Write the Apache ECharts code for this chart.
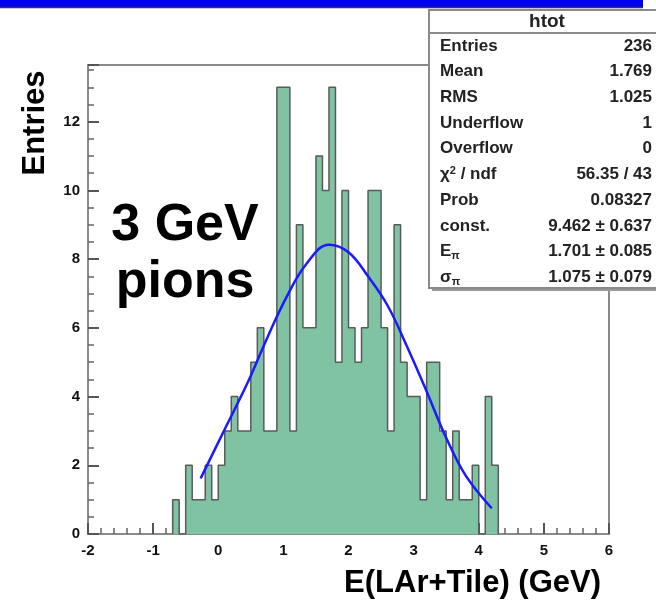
<!DOCTYPE html>
<html>
<head>
<meta charset="utf-8">
<script src="https://cdn.jsdelivr.net/npm/echarts@6/dist/echarts.min.js"></script>
<style>
html, body { margin: 0; padding: 0; background: #fff; }
#Echarts { width: 656px; height: 604px; }
</style>
</head>
<body>
<div id="Echarts"></div>
<script>
// histogram htot: 0.1 GeV bins starting at -0.7
var binLow = -0.7;
var binWidth = 0.1;
var counts = [1, 0, 2, 1, 1, 2, 1, 2, 3, 4, 3, 3, 5, 6, 3, 3, 13, 13, 3, 9,
              6, 6, 11, 10, 13, 5, 10, 6, 5, 6, 10, 10, 6, 3, 9, 5, 4, 4, 1, 5,
              5, 3, 1, 3, 1, 1, 2, 0, 4, 2];

// gaussian fit curve
var fitX = [-0.27, 0.1, 0.45, 0.75, 1.05, 1.35, 1.7, 2.0, 2.3, 2.6, 2.9, 3.2, 3.5, 3.8, 4.2];
var fitY = [1.62, 3.05, 4.4, 5.7, 6.9, 7.85, 8.42, 8.2, 7.5, 6.65, 5.45, 4.15, 2.8, 1.7, 0.75];

// stats box
var statTitle = 'htot';
var statLabels = ['Entries', 'Mean', 'RMS', 'Underflow', 'Overflow', 'χ{sup|2} / ndf', 'Prob', 'const.', 'E{sub|π}', 'σ{sub|π}'];
var statValues = ['236', '1.769', '1.025', '1', '0', '56.35 / 43', '0.08327', '9.462 ± 0.637', '1.701 ± 0.085', '1.075 ± 0.079'];

var xTitle = 'E(LAr+Tile) (GeV)';
var yTitle = 'Entries';
var noteLines = ['3 GeV', 'pions'];

var myChart = echarts.init(document.getElementById('Echarts'), null, { renderer: 'canvas' });

var histPts = [[binLow, 0]];
counts.forEach(function (c, i) {
    histPts.push([+(binLow + i * binWidth).toFixed(2), c]);
});
var binHigh = +(binLow + counts.length * binWidth).toFixed(2);
histPts.push([binHigh, counts[counts.length - 1]]);
histPts.push([binHigh, 0]);

var fitPts = fitX.map(function (x, i) { return [x, fitY[i]]; });

var font = 'Liberation Sans, Arial, Helvetica, sans-serif';

// stats box graphic
var boxX = 429, boxY = 10, boxW = 240, boxH = 278;
var statEls = [
    { type: 'rect', shape: { x: boxX + 3, y: boxY + 3, width: boxW, height: boxH }, style: { fill: '#9a9a9a' } },
    { type: 'rect', shape: { x: boxX, y: boxY, width: boxW, height: boxH }, style: { fill: '#fff', stroke: '#8a8a8a', lineWidth: 2 } },
    { type: 'line', shape: { x1: boxX, y1: 33, x2: boxX + boxW, y2: 33 }, style: { stroke: '#8a8a8a', lineWidth: 2 } },
    { type: 'text', x: 547, y: 22, style: { text: statTitle, font: 'bold 19px ' + font, fill: '#222', align: 'center', verticalAlign: 'middle' } }
];
statLabels.forEach(function (lab, i) {
    var yy = 46 + i * 25.7;
    statEls.push({
        type: 'text', x: 440, y: yy,
        style: {
            text: lab, font: 'bold 17px ' + font, fill: '#222', verticalAlign: 'middle',
            rich: {
                sub: { fontSize: 11, fontWeight: 'bold', verticalAlign: 'bottom', padding: [9, 0, 0, 0], fill: '#222' },
                sup: { fontSize: 11, fontWeight: 'bold', verticalAlign: 'top', padding: [0, 0, 8, 0], fill: '#222' }
            }
        }
    });
    statEls.push({
        type: 'text', x: 652, y: yy,
        style: { text: statValues[i], font: 'bold 17px ' + font, fill: '#222', align: 'right', verticalAlign: 'middle' }
    });
});

var option = {
    animation: false,
    backgroundColor: '#fff',
    grid: {
        left: 88, top: 65, width: 521, height: 469,
        show: true, borderColor: '#8a8a8a', borderWidth: 2, backgroundColor: 'transparent'
    },
    xAxis: {
        type: 'value',
        min: -2, max: 6, interval: 1,
        axisLine: { show: true, onZero: false, lineStyle: { color: '#8a8a8a', width: 2 } },
        axisTick: { show: true, inside: true, length: 11, lineStyle: { color: '#555', width: 2 } },
        minorTick: { show: true, splitNumber: 5, length: 6, lineStyle: { color: '#666', width: 1.5 } },
        axisLabel: { color: '#111', fontSize: 15, fontWeight: 'bold', fontFamily: font, margin: 9 },
        splitLine: { show: false }
    },
    yAxis: {
        type: 'value',
        min: 0, max: 13.65, interval: 2,
        axisLine: { show: true, onZero: false, lineStyle: { color: '#8a8a8a', width: 2 } },
        axisTick: { show: true, inside: true, length: 11, lineStyle: { color: '#555', width: 2 } },
        minorTick: { show: true, splitNumber: 4, length: 6, lineStyle: { color: '#666', width: 1.5 } },
        axisLabel: { color: '#111', fontSize: 15, fontWeight: 'bold', fontFamily: font, margin: 8, showMaxLabel: false },
        splitLine: { show: false }
    },
    series: [
        {
            type: 'line',
            name: 'htot',
            data: histPts,
            step: 'end',
            symbol: 'none',
            silent: true,
            lineStyle: { color: '#5a5a5a', width: 1.5 },
            areaStyle: { color: '#80c3a3', opacity: 1, origin: 'start' },
            z: 2
        },
        {
            type: 'line',
            name: 'fit',
            data: fitPts,
            smooth: 0.4,
            symbol: 'none',
            silent: true,
            lineStyle: { color: '#1a1aff', width: 2.5 },
            z: 3
        }
    ],
    graphic: [
        { type: 'rect', shape: { x: 0, y: 0, width: 643, height: 7 }, style: { fill: '#0000ee' }, z: 10 },
        { type: 'line', shape: { x1: 0, y1: 7.5, x2: 643, y2: 7.5 }, style: { stroke: '#333366', lineWidth: 1.5 }, z: 10 },
        { type: 'text', x: 35, y: 123, rotation: Math.PI / 2,
          style: { text: yTitle, font: 'bold 31px ' + font, fill: '#000', align: 'center', verticalAlign: 'middle' }, z: 10 },
        { type: 'text', x: 601, y: 583,
          style: { text: xTitle, font: 'bold 31px ' + font, fill: '#000', align: 'right', verticalAlign: 'middle' }, z: 10 },
        { type: 'text', x: 185, y: 200,
          style: { text: noteLines[0], font: 'bold 52px ' + font, fill: '#000', align: 'center', verticalAlign: 'alphabetic' }, z: 10 },
        { type: 'text', x: 185, y: 257,
          style: { text: noteLines[1], font: 'bold 52px ' + font, fill: '#000', align: 'center', verticalAlign: 'alphabetic' }, z: 10 },
        { type: 'group', z: 20, children: statEls }
    ]
};

myChart.setOption(option);
</script>
</body>
</html>
